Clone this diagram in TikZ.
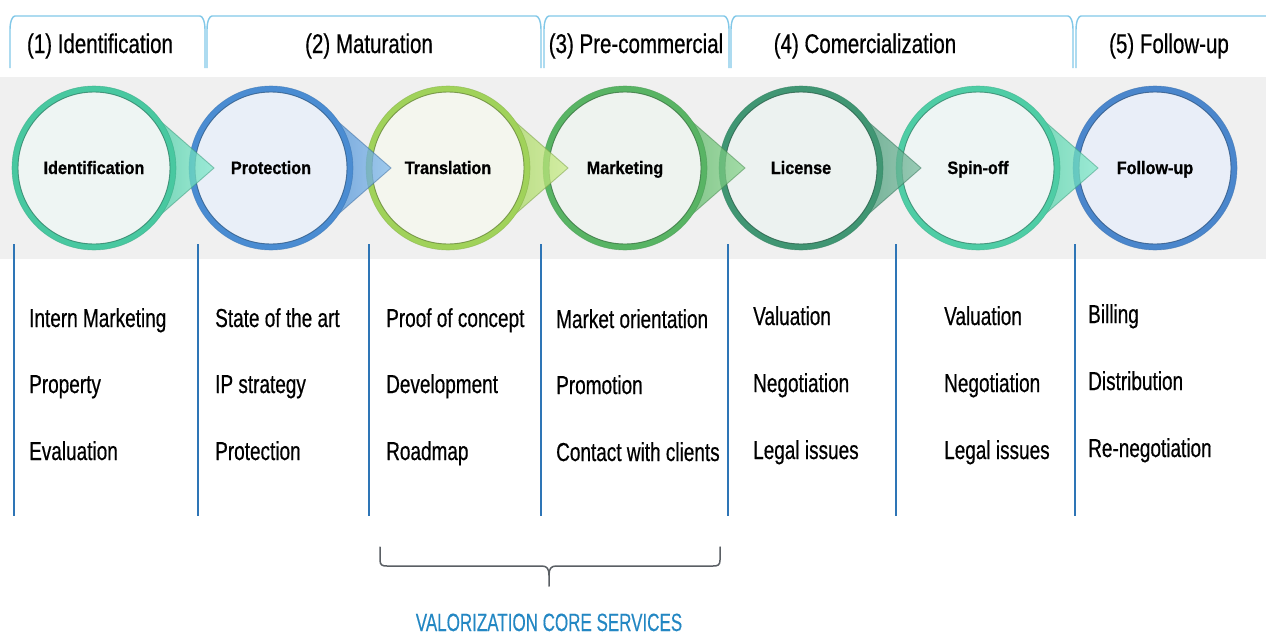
\documentclass[tikz,border=0pt]{standalone}
\usepackage{fontspec}
\setmainfont{Liberation Sans}
\newfontfamily\hdrfont[FakeStretch=0.76,FakeBold=0.5]{Liberation Sans}
\newfontfamily\lstfont[FakeStretch=0.73,FakeBold=0.5]{Liberation Sans}
\newfontfamily\crcfont[FakeStretch=0.9,FakeBold=0.8]{Liberation Sans}
\newfontfamily\capfont[FakeStretch=0.68,FakeBold=0.3]{Liberation Sans}
\definecolor{band}{RGB}{240,240,240}
\definecolor{tabblue}{RGB}{130,200,232}
\definecolor{divblue}{RGB}{46,117,182}
\definecolor{capblue}{RGB}{35,135,195}
\definecolor{bracegray}{RGB}{90,95,100}
\definecolor{rI}{RGB}{72,200,160}
\definecolor{rP}{RGB}{74,140,210}
\definecolor{rT}{RGB}{160,210,90}
\definecolor{rM}{RGB}{88,180,100}
\definecolor{rL}{RGB}{64,150,115}
\definecolor{rS}{RGB}{78,205,165}
\definecolor{rF}{RGB}{74,134,204}
\definecolor{tI}{RGB}{100,228,192}
\definecolor{tP}{RGB}{100,170,232}
\definecolor{tT}{RGB}{190,232,110}
\definecolor{tM}{RGB}{110,202,115}
\definecolor{tL}{RGB}{92,172,136}
\definecolor{tS}{RGB}{100,228,188}
\definecolor{tF}{RGB}{100,160,225}
\definecolor{fI}{RGB}{238,245,243}
\definecolor{fP}{RGB}{233,239,248}
\definecolor{fT}{RGB}{244,246,238}
\definecolor{fM}{RGB}{238,243,239}
\definecolor{fL}{RGB}{236,242,240}
\definecolor{fS}{RGB}{238,245,244}
\definecolor{fF}{RGB}{233,238,248}
\tikzset{
  hdr/.style={font={\hdrfont\fontsize{27}{30}\selectfont}, anchor=base, inner sep=0pt},
  item/.style={font={\lstfont\fontsize{26}{30}\selectfont}, anchor=base west, inner sep=0pt},
  clabel/.style={font={\crcfont\bfseries\fontsize{18}{20}\selectfont}, anchor=base, inner sep=0pt},
  tabline/.style={draw=tabblue, line width=1.4pt},
  divider/.style={draw=divblue, line width=1.5pt},
  bracel/.style={draw=bracegray, line width=1.5pt, line cap=round},
}
\newcommand{\tabshape}[2]{%
  \draw[tabline] (#1,68) -- (#1,30) .. controls (#1,20) and (#1+3,16) .. (#1+5,16)
    -- (#2-5,16) .. controls (#2-3,16) and (#2,20) .. (#2,30) -- (#2,68);}
\begin{document}
\begin{tikzpicture}[x=1pt,y=-1pt]
\useasboundingbox (0,0) rectangle (1266,635);
\fill[white] (0,0) rectangle (1266,635);
% header tabs
\tabshape{10}{205}
\tabshape{207}{541}
\tabshape{544}{729}
\tabshape{731}{1073}
\draw[tabline] (1076,68) -- (1076,30) .. controls (1076,20) and (1079,16) .. (1081,16) -- (1266,16);
\node[hdr] (h1) at (100,53) {(1) Identification};
\node[hdr] (h2) at (369,53) {(2) Maturation};
\node[hdr] (h3) at (636,53) {(3) Pre-commercial};
\node[hdr] (h4) at (865,53) {(4) Comercialization};
\node[hdr] (h5) at (1169,53) {(5) Follow-up};
% band
\fill[band] (0,77) rectangle (1266,259);
% circles, drawn right to left
\foreach \cx/\lab/\rc/\tc/\fc/\t/\nm in {
  1155/Follow-up/rF/tF/fF/0/c7,
  978/Spin-off/rS/tS/fS/1/c6,
  801/License/rL/tL/fL/1/c5,
  625/Marketing/rM/tM/fM/1/c4,
  448/Translation/rT/tT/fT/1/c3,
  271/Protection/rP/tP/fP/1/c2,
  94/Identification/rI/tI/fI/1/c1}{
  \ifnum\t=1
    \shade[left color=\rc, right color=\tc!80!white, fill opacity=0.75]
      (\cx+52,108.5) -- (\cx+120,168) -- (\cx+52,227.5) -- cycle;
    \draw[\rc!75!black, line width=0.9pt, opacity=0.5]
      (\cx+52,108.5) -- (\cx+120,168) -- (\cx+52,227.5);
  \fi
  \node[circle, minimum size=158, inner sep=0pt, fill=\fc, draw=\rc, line width=6pt] (\nm) at (\cx,168) {};
  \draw[\rc!65!black, line width=0.9pt, opacity=0.8] (\nm.center) circle[radius=76];
  \draw[\rc!85!black, line width=0.6pt, opacity=0.6] (\nm.center) circle[radius=82];
  \node[clabel] (l\nm) at (\cx,174) {\lab};
}
% dividers
\foreach \x in {14,198,369,541,728,896,1075}{
  \draw[divider] (\x,244) -- (\x,516);
}
% items
\node[item] (a1) at (29,327) {Intern Marketing};
\node[item] (a2) at (29,393) {Property};
\node[item] (a3) at (29,460) {Evaluation};
\node[item] (b1) at (215,327) {State of the art};
\node[item] (b2) at (215,393) {IP strategy};
\node[item] (b3) at (215,460) {Protection};
\node[item] (d1) at (386,327) {Proof of concept};
\node[item] (d2) at (386,393) {Development};
\node[item] (d3) at (386,460) {Roadmap};
\node[item] (e1) at (556,328) {Market orientation};
\node[item] (e2) at (556,394) {Promotion};
\node[item] (e3) at (556,461) {Contact with clients};
\node[item] (f1) at (753,325) {Valuation};
\node[item] (f2) at (753,392) {Negotiation};
\node[item] (f3) at (753,459) {Legal issues};
\node[item] (g1) at (944,325) {Valuation};
\node[item] (g2) at (944,392) {Negotiation};
\node[item] (g3) at (944,459) {Legal issues};
\node[item] (k1) at (1088,323) {Billing};
\node[item] (k2) at (1088,390) {Distribution};
\node[item] (k3) at (1088,457) {Re-negotiation};
% brace
\coordinate (brL) at (380,547);
\coordinate (brR) at (720,547);
\coordinate (brM) at (549,586);
\draw[bracel] (brL) -- (380,560) .. controls (380,565) and (382,566) .. (387,566) -- (542,566)
   .. controls (547,566) and (549,569) .. (549,575) -- (brM);
\draw[bracel] (brR) -- (720,560) .. controls (720,565) and (718,566) .. (713,566) -- (556,566)
   .. controls (551,566) and (549,569) .. (549,575);
\node[font={\capfont\fontsize{25}{28}\selectfont}, text=capblue, anchor=base, inner sep=0pt] (core) at (549,631) {VALORIZATION CORE SERVICES};
\end{tikzpicture}
\end{document}
